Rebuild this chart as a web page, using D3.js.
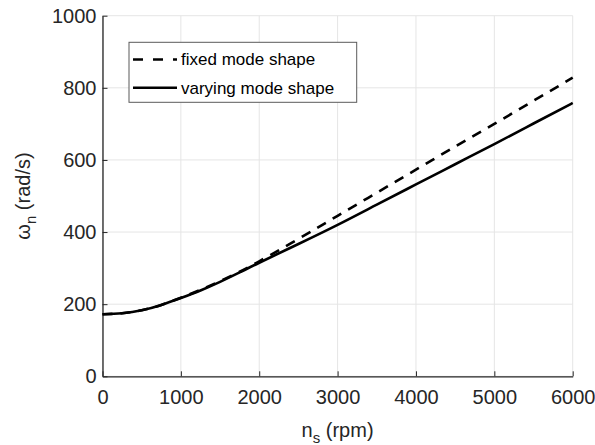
<!DOCTYPE html>
<html>
<head>
<meta charset="utf-8">
<script src="https://cdn.jsdelivr.net/npm/d3@7"></script>
<style>
  body { margin: 0; background: #fff; }
  text { font-family: "Liberation Sans", Arial, Helvetica, sans-serif; }
</style>
</head>
<body>
<div id="chart"></div>
<script>
const width = 595;
const height = 445;
const margin = { top: 15.7, right: 22.3, bottom: 68.7, left: 102.5 };

// speed (rpm)
const speeds = [0, 250, 500, 750, 1000, 1250, 1500, 1750, 2000, 2500, 3000, 3500, 4000, 4500, 5000, 5500, 6000];
// natural frequency (rad/s)
const fixedShape = [172, 175, 183, 198, 218, 240, 264, 290, 319, 381, 445, 509, 573, 637, 700, 764, 828];
const varyingShape = [172, 175, 183, 198, 217, 238, 262, 288, 315, 367, 420, 476, 532, 588, 644, 701, 758];

const xTicks = [0, 1000, 2000, 3000, 4000, 5000, 6000];
const yTicks = [0, 200, 400, 600, 800, 1000];

const seriesNames = ["fixed mode shape", "varying mode shape"];

const axisColor = "#262626";
const gridColor = "#e5e5e5";

const svg = d3.select("#chart").append("svg")
  .attr("width", width)
  .attr("height", height);

const plotW = width - margin.left - margin.right;
const plotH = height - margin.top - margin.bottom;

const x = d3.scaleLinear().domain([0, 6000]).range([margin.left, margin.left + plotW]);
const y = d3.scaleLinear().domain([0, 1000]).range([margin.top + plotH, margin.top]);

// grid
svg.append("g").selectAll("line").data(xTicks).enter().append("line")
  .attr("x1", d => x(d)).attr("x2", d => x(d))
  .attr("y1", y(0)).attr("y2", y(1000))
  .attr("stroke", gridColor).attr("stroke-width", 1);
svg.append("g").selectAll("line").data(yTicks).enter().append("line")
  .attr("x1", x(0)).attr("x2", x(6000))
  .attr("y1", d => y(d)).attr("y2", d => y(d))
  .attr("stroke", gridColor).attr("stroke-width", 1);

// axes (ticks inward)
const xAxis = d3.axisBottom(x).tickValues(xTicks).tickFormat(d3.format("d"))
  .tickSizeInner(-5).tickSizeOuter(0).tickPadding(14);
const yAxis = d3.axisLeft(y).tickValues(yTicks).tickFormat(d3.format("d"))
  .tickSizeInner(-5).tickSizeOuter(0).tickPadding(6);

const gx = svg.append("g").attr("transform", `translate(0,${y(0)})`).call(xAxis);
const gy = svg.append("g").attr("transform", `translate(${x(0)},0)`).call(yAxis);

[gx, gy].forEach(g => {
  g.select(".domain").attr("stroke", axisColor).attr("stroke-width", 1.3);
  g.selectAll(".tick line").attr("stroke", axisColor).attr("stroke-width", 1);
  g.selectAll(".tick text")
    .attr("fill", axisColor)
    .style("font-size", "20px")
    .style("font-family", "'Liberation Sans', Arial, sans-serif");
});

// lines
const line = d3.line()
  .x((d, i) => x(speeds[i]))
  .y(d => y(d))
  .curve(d3.curveNatural);

svg.append("path")
  .datum(varyingShape)
  .attr("d", line)
  .attr("fill", "none")
  .attr("stroke", "#000")
  .attr("stroke-width", 2.6);

svg.append("path")
  .datum(fixedShape)
  .attr("d", line)
  .attr("fill", "none")
  .attr("stroke", "#000")
  .attr("stroke-width", 2.6)
  .attr("stroke-dasharray", "10,8");

// axis labels
const xLabel = svg.append("text")
  .attr("x", x(3000))
  .attr("y", 437)
  .attr("text-anchor", "middle")
  .attr("fill", axisColor)
  .style("font-size", "20px");
xLabel.append("tspan").text("n");
xLabel.append("tspan").attr("dy", 6).style("font-size", "15px").text("s");
xLabel.append("tspan").attr("dy", -6).text(" (rpm)");

const yLabel = svg.append("text")
  .attr("transform", `translate(30,${y(500)}) rotate(-90)`)
  .attr("text-anchor", "middle")
  .attr("fill", axisColor)
  .style("font-size", "20px");
yLabel.append("tspan").text("ω");
yLabel.append("tspan").attr("dy", 6).style("font-size", "15px").text("n");
yLabel.append("tspan").attr("dy", -6).text(" (rad/s)");

// legend
const legend = svg.append("g");
legend.append("rect")
  .attr("x", 129).attr("y", 42.3)
  .attr("width", 227.7).attr("height", 60)
  .attr("fill", "#fff")
  .attr("stroke", "#5a5a5a")
  .attr("stroke-width", 1);

seriesNames.forEach((name, i) => {
  const ly = 59.5 + i * 28.3;
  legend.append("line")
    .attr("x1", 133).attr("x2", 177)
    .attr("y1", ly).attr("y2", ly)
    .attr("stroke", "#000")
    .attr("stroke-width", 2.6)
    .attr("stroke-dasharray", i === 0 ? "10,10" : null);
  legend.append("text")
    .attr("x", 181)
    .attr("y", ly)
    .attr("dy", "0.35em")
    .attr("fill", "#000")
    .style("font-size", "17px")
    .text(name);
});
</script>
</body>
</html>
